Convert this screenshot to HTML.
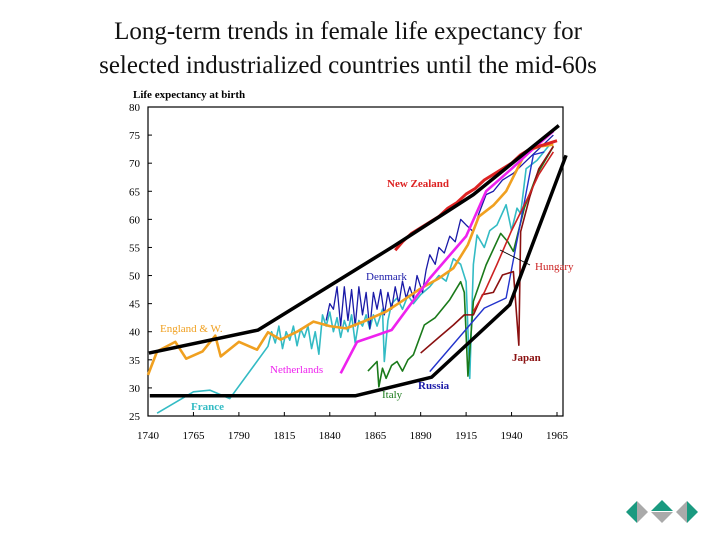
<!DOCTYPE html>
<html><head><meta charset="utf-8"><style>
html,body{margin:0;padding:0;background:#fff;width:720px;height:540px;overflow:hidden}
.t{position:absolute;left:0;width:696px;text-align:center;font-family:"Liberation Serif",serif;font-size:25px;color:#111;line-height:34px}
</style></head><body>
<div class="t" style="top:15px">Long-term trends in female life expectancy for<br>selected industrialized countries until the mid-60s</div>
<svg id="c" width="720" height="540" style="position:absolute;left:0;top:0"></svg>
<script>
const yearTicks=[1740,1765,1790,1815,1840,1865,1890,1915,1940,1965];
const valueTicks=[25,30,35,40,45,50,55,60,65,70,75,80];
const upperEnvelope=[[1740.5,36.2],[1800.6,40.3],[1875,55.2],[1919,64.4],[1966,76.7]];
const lowerEnvelope=[[1741,28.6],[1854,28.6],[1896,31.9],[1939,44.8],[1970,71.4]];
const england=[[1740,32.3],[1745,36.5],[1755,38.2],[1761,35.2],[1770,36.5],[1777,39.3],[1780,35.6],[1790,38.2],[1800,36.8],[1806,39.9],[1813,38.6],[1822,40],[1831,41.8],[1840,41],[1849,40.6],[1860,42],[1871,43.6],[1880,45.5],[1890,47.7],[1900,49.5],[1908,51.3],[1916,55.5],[1922,60.5],[1930,62.5],[1937,65],[1948,72.1],[1956,73],[1963,73.3]];
const france=[[1745,25.5],[1765,29.3],[1774,29.6],[1785,28.1],[1806,37.4],[1808,40],[1810,38],[1812,41],[1814,37],[1816,40],[1818,38.5],[1820,41],[1822,37.5],[1824,40.5],[1826,39],[1828,41],[1830,37],[1832,40],[1834,36],[1836,43],[1838,41],[1840,43.5],[1842,40],[1844,42.5],[1846,39],[1848,42],[1850,40],[1852,43],[1854,38],[1856,42],[1858,41],[1860,43],[1862,40.5],[1864,43],[1866,41],[1869,44],[1870,34.7],[1872,42],[1874,45],[1877,46],[1880,44],[1883,46.5],[1886,45],[1890,46.6],[1895,48],[1900,50],[1904,49],[1908,53],[1912,52],[1915,48.9],[1917,31.7],[1919,52],[1921,57.2],[1925,55],[1928,58],[1932,59],[1937,62.6],[1940,58],[1943,62],[1945,61],[1948,69],[1954,70.5],[1961,73.3]];
const denmark=[[1838,42],[1840,45],[1842,44],[1844,48],[1846,41],[1848,48],[1850,42],[1852,47.5],[1854,41],[1856,48],[1858,43],[1860,47],[1862,40.5],[1864,47],[1866,44],[1868,47.5],[1870,43],[1872,47],[1874,44],[1876,48],[1878,45],[1880,49],[1882,46],[1884,48],[1886,46],[1888,50],[1891,47],[1893,51],[1895,53.7],[1898,52],[1900,55],[1903,54],[1906,57],[1909,56],[1912,60],[1915,59],[1919,57.8],[1922,61],[1926,64.4],[1930,65],[1935,67],[1941,68.2],[1950,71],[1963,75]];
const netherlands=[[1846,32.6],[1855,38.2],[1874,40.3],[1895,49.5],[1915,57],[1926,65],[1940,69],[1950,72],[1963,75.7]];
const newZealand=[[1876,54.5],[1880,56],[1885,57.5],[1890,58.5],[1895,59.5],[1900,60.5],[1905,62],[1910,63],[1915,64.5],[1920,65.5],[1925,67],[1930,68],[1935,69],[1940,70],[1945,71.5],[1950,72.5],[1955,73],[1960,73.5],[1965,74]];
const hungary=[[1919,43.6],[1925,47],[1932,52],[1940,58],[1948,63.2],[1955,68],[1963,72]];
const japan=[[1890,36.2],[1900,39],[1908,41.2],[1914,43],[1919,43],[1924,46.6],[1930,47],[1935,50.1],[1941,50.7],[1944,37.6],[1945,57.8],[1950,64],[1955,69],[1963,73]];
const italy=[[1861,33],[1866,34.7],[1867,30.2],[1869,33.5],[1871,31.7],[1874,34],[1877,34.7],[1880,33],[1883,35],[1886,35.9],[1892,41.2],[1898,42.5],[1906,45.7],[1912,48.9],[1914,47],[1916,32.1],[1919,45.4],[1926,51.9],[1934,57.5],[1938,56],[1941,54.3],[1947,62],[1954,68],[1963,73]];
const russia=[[1895,32.9],[1925,44.2],[1937,46],[1952,71.5],[1958,72]];
const X=y=>148+(y-1740)*(409/225);
const Y=v=>416-(v-25)*(309/55);
const svg=document.getElementById('c');
const NS='http://www.w3.org/2000/svg';
function mk(t,a){const e=document.createElementNS(NS,t);for(const k in a)e.setAttribute(k,a[k]);svg.appendChild(e);return e;}
const frame=mk('rect',{x:148,y:107,width:415,height:309,fill:'none',stroke:'#000','stroke-width':1.2});


valueTicks.forEach(v=>{const t=mk('text',{x:140,y:Y(v)+4,'text-anchor':'end','font-family':'Liberation Serif, serif','font-size':11});t.textContent=v;


mk('line',{x1:148,x2:152,y1:Y(v),y2:Y(v),stroke:'#000'});});
yearTicks.forEach(y=>{const t=mk('text',{x:X(y),y:439,'text-anchor':'middle','font-family':'Liberation Serif, serif','font-size':11});t.textContent=y;


mk('line',{x1:X(y),x2:X(y),y1:416,y2:412,stroke:'#000'});});
const yt=mk('text',{x:133,y:98,'font-family':'Liberation Serif, serif','font-size':11,'font-weight':'bold'});yt.textContent='Life expectancy at birth';


function line(d,c,w,name){const p=mk('polyline',{points:d.map(p=>X(p[0])+','+Y(p[1])).join(' '),fill:'none',stroke:c,'stroke-width':w,'stroke-linejoin':'round'});

}
line(france,'#33bbc4',1.6,'series-france');
line(denmark,'#1a1aa8',1.3,'series-denmark');
line(italy,'#1a7a1a',1.6,'series-italy');
line(russia,'#2233cc',1.4,'series-russia');
line(japan,'#8a1010',1.6,'series-japan');
line(hungary,'#cc2222',1.6,'series-hungary');
line(england,'#f0a020',2.6,'series-england');
line(netherlands,'#ee22ee',2.6,'series-netherlands');
line(newZealand,'#dd2222',3,'series-new-zealand');
line(upperEnvelope,'#000',3.5,'upper-envelope');
line(lowerEnvelope,'#000',3.5,'lower-envelope');
mk('line',{x1:500,y1:250,x2:530,y2:265,stroke:'#000','stroke-width':0.8});
const labels=[['New Zealand',387,187,'#dd2222','bold'],['Denmark',366,280,'#1a1aa8','normal'],['Hungary',535,270,'#cc2222','normal'],['England & W.',160,332,'#f0a020','normal'],['Netherlands',270,373,'#ee22ee','normal'],['Japan',512,361,'#8a1010','bold'],['Russia',418,389,'#1a1aa8','bold'],['Italy',382,398,'#1a7a1a','normal'],['France',191,410,'#33bbc4','bold']];
labels.forEach(l=>{const t=mk('text',{x:l[1],y:l[2],fill:l[3],'font-weight':l[4],'font-family':'Liberation Serif, serif','font-size':11});t.textContent=l[0];

});
</script>
<svg width="80" height="30" style="position:absolute;left:624px;top:497px">
<g><polygon points="2,15 13,4 13,26" fill="#1a9a80"/><polygon points="13,4 24,15 13,26" fill="#aaa"/></g>
<g><polygon points="27,14 38,3 49,14" fill="#1a9a80"/><polygon points="27,15 49,15 38,26" fill="#aaa"/></g>
<g><polygon points="52,15 63,4 63,26" fill="#aaa"/><polygon points="63,4 74,15 63,26" fill="#1a9a80"/></g>
</svg>
</body></html>
